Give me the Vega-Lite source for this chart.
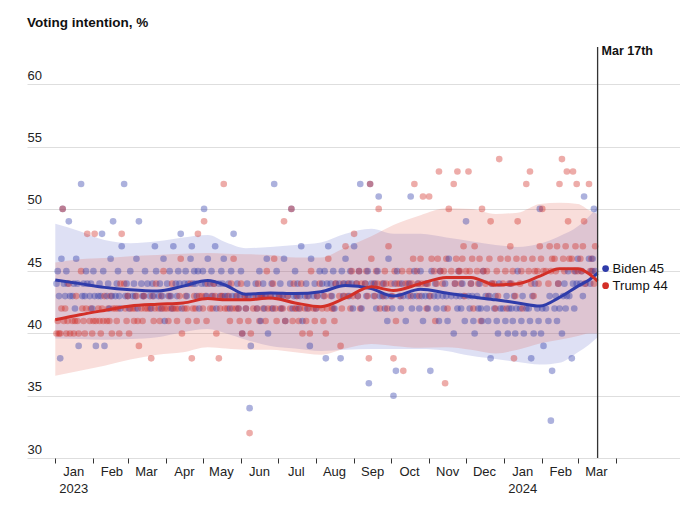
{
"$schema":"https://vega.github.io/schema/vega-lite/v6.json",
"width":653,"height":411,"autosize":"none",
"padding":{"left":27,"top":47,"right":0,"bottom":47},
"background":"white",
"title":{"text":"Voting intention, %","anchor":"start","frame":"group","offset":5,"baseline":"alphabetic","fontSize":13.5,"fontWeight":"bold","font":"Liberation Sans","color":"#111"},
"config":{"view":{"stroke":null},"font":"Liberation Sans",
"axisY":{"grid":true,"gridColor":"#dedede","gridWidth":1,"ticks":false,"domain":false,"labelAlign":"left","labelBaseline":"alphabetic","labelPadding":0,"labelOffset":-5,"labelFontSize":13,"labelColor":"#222","labelFont":"Liberation Sans","tickCount":7}},
"datasets":{
"polls":[
{"d":"2023-01-02","b":44,"t":40},{"d":"2023-01-03","b":45,"t":41},{"d":"2023-01-04","b":43,"t":40},{"d":"2023-01-05","b":38,"t":40},{"d":"2023-01-06","b":46,"t":42},{"d":"2023-01-07","b":50,"t":50},
{"d":"2023-01-08","b":44,"t":41},{"d":"2023-01-09","b":43,"t":42},{"d":"2023-01-10","b":45,"t":40},{"d":"2023-01-11","b":44,"t":41},{"d":"2023-01-12","b":49,"t":44},{"d":"2023-01-13","b":43,"t":40},
{"d":"2023-01-15","b":43,"t":41},{"d":"2023-01-16","b":44,"t":40},{"d":"2023-01-17","b":42,"t":41},{"d":"2023-01-18","b":46,"t":43},{"d":"2023-01-19","b":44,"t":41},{"d":"2023-01-20","b":39,"t":40},
{"d":"2023-01-22","b":52,"t":45},{"d":"2023-01-23","b":43,"t":42},{"d":"2023-01-24","b":44,"t":41},{"d":"2023-01-25","b":43,"t":40},{"d":"2023-01-26","b":45,"t":42},{"d":"2023-01-27","b":44,"t":48},
{"d":"2023-01-29","b":43,"t":41},{"d":"2023-01-30","b":44,"t":42},{"d":"2023-01-31","b":42,"t":40},{"d":"2023-02-01","b":45,"t":41},{"d":"2023-02-02","b":43,"t":48},{"d":"2023-02-03","b":39,"t":41},
{"d":"2023-02-05","b":43,"t":42},{"d":"2023-02-06","b":44,"t":41},{"d":"2023-02-07","b":43,"t":40},{"d":"2023-02-08","b":48,"t":42},{"d":"2023-02-09","b":45,"t":41},{"d":"2023-02-10","b":39,"t":43},
{"d":"2023-02-12","b":43,"t":41},{"d":"2023-02-13","b":44,"t":42},{"d":"2023-02-14","b":42,"t":41},{"d":"2023-02-15","b":46,"t":43},{"d":"2023-02-16","b":43,"t":40},{"d":"2023-02-17","b":49,"t":42},
{"d":"2023-02-19","b":43,"t":42},{"d":"2023-02-20","b":44,"t":41},{"d":"2023-02-21","b":45,"t":42},{"d":"2023-02-22","b":43,"t":40},{"d":"2023-02-23","b":42,"t":44},{"d":"2023-02-24","b":47,"t":48},
{"d":"2023-02-26","b":52,"t":44},{"d":"2023-02-27","b":43,"t":42},{"d":"2023-02-28","b":44,"t":41},{"d":"2023-03-01","b":43,"t":43},{"d":"2023-03-02","b":42,"t":40},{"d":"2023-03-03","b":45,"t":42},
{"d":"2023-03-05","b":43,"t":42},{"d":"2023-03-06","b":44,"t":41},{"d":"2023-03-07","b":43,"t":42},{"d":"2023-03-08","b":46,"t":43},{"d":"2023-03-09","b":42,"t":41},{"d":"2023-03-10","b":49,"t":39},
{"d":"2023-03-12","b":44,"t":42},{"d":"2023-03-13","b":43,"t":41},{"d":"2023-03-14","b":43,"t":43},{"d":"2023-03-15","b":45,"t":42},{"d":"2023-03-17","b":44,"t":42},
{"d":"2023-03-19","b":43,"t":42},{"d":"2023-03-20","b":42,"t":38},{"d":"2023-03-21","b":44,"t":43},{"d":"2023-03-22","b":43,"t":41},{"d":"2023-03-23","b":47,"t":42},{"d":"2023-03-24","b":45,"t":44},
{"d":"2023-03-26","b":43,"t":42},{"d":"2023-03-27","b":44,"t":41},{"d":"2023-03-28","b":42,"t":43},{"d":"2023-03-29","b":43,"t":42},{"d":"2023-03-30","b":46,"t":45},{"d":"2023-03-31","b":41,"t":42},
{"d":"2023-04-02","b":44,"t":42},{"d":"2023-04-03","b":43,"t":41},{"d":"2023-04-04","b":45,"t":43},{"d":"2023-04-05","b":43,"t":42},{"d":"2023-04-06","b":42,"t":44},{"d":"2023-04-07","b":47,"t":42},
{"d":"2023-04-09","b":44,"t":42},{"d":"2023-04-10","b":43,"t":41},{"d":"2023-04-11","b":45,"t":42},{"d":"2023-04-12","b":44,"t":43},{"d":"2023-04-13","b":48,"t":46},{"d":"2023-04-14","b":42,"t":40},
{"d":"2023-04-16","b":44,"t":42},{"d":"2023-04-17","b":45,"t":43},{"d":"2023-04-18","b":43,"t":42},{"d":"2023-04-19","b":44,"t":41},{"d":"2023-04-21","b":46,"t":44},{"d":"2023-04-22","b":47,"t":38},
{"d":"2023-04-23","b":44,"t":42},{"d":"2023-04-24","b":45,"t":43},{"d":"2023-04-25","b":44,"t":42},{"d":"2023-04-26","b":43,"t":41},{"d":"2023-04-27","b":45,"t":48},{"d":"2023-04-28","b":42,"t":43},
{"d":"2023-04-30","b":44,"t":43},{"d":"2023-05-01","b":45,"t":42},{"d":"2023-05-02","b":50,"t":49},{"d":"2023-05-03","b":44,"t":43},{"d":"2023-05-04","b":43,"t":41},{"d":"2023-05-05","b":46,"t":44},
{"d":"2023-05-07","b":44,"t":42},{"d":"2023-05-08","b":45,"t":43},{"d":"2023-05-09","b":43,"t":42},{"d":"2023-05-10","b":44,"t":44},{"d":"2023-05-11","b":47,"t":43},{"d":"2023-05-12","b":42,"t":40},
{"d":"2023-05-14","b":44,"t":38},{"d":"2023-05-15","b":43,"t":42},{"d":"2023-05-16","b":45,"t":43},{"d":"2023-05-17","b":44,"t":43},{"d":"2023-05-18","b":46,"t":52},{"d":"2023-05-19","b":43,"t":42},
{"d":"2023-05-21","b":43,"t":42},{"d":"2023-05-22","b":44,"t":43},{"d":"2023-05-23","b":42,"t":41},{"d":"2023-05-24","b":45,"t":44},{"d":"2023-05-25","b":43,"t":42},{"d":"2023-05-26","b":48,"t":46},
{"d":"2023-05-28","b":43,"t":42},{"d":"2023-05-29","b":44,"t":43},{"d":"2023-05-30","b":42,"t":42},{"d":"2023-05-31","b":43,"t":41},{"d":"2023-06-01","b":45,"t":44},{"d":"2023-06-02","b":40,"t":40},
{"d":"2023-06-04","b":43,"t":43},{"d":"2023-06-05","b":42,"t":42},{"d":"2023-06-06","b":44,"t":43},{"d":"2023-06-07","b":43,"t":41},{"d":"2023-06-08","b":34,"t":32},{"d":"2023-06-09","b":39,"t":40},
{"d":"2023-06-11","b":43,"t":42},{"d":"2023-06-13","b":44,"t":43},{"d":"2023-06-14","b":42,"t":42},{"d":"2023-06-15","b":43,"t":44},{"d":"2023-06-16","b":45,"t":41},{"d":"2023-06-17","b":41,"t":43},
{"d":"2023-06-18","b":43,"t":43},{"d":"2023-06-19","b":44,"t":42},{"d":"2023-06-20","b":42,"t":43},{"d":"2023-06-21","b":43,"t":41},{"d":"2023-06-22","b":46,"t":45},{"d":"2023-06-23","b":40,"t":42},
{"d":"2023-06-25","b":43,"t":43},{"d":"2023-06-26","b":44,"t":42},{"d":"2023-06-27","b":42,"t":44},{"d":"2023-06-28","b":52,"t":46},{"d":"2023-06-29","b":43,"t":42},{"d":"2023-06-30","b":45,"t":41},
{"d":"2023-07-02","b":43,"t":43},{"d":"2023-07-03","b":44,"t":42},{"d":"2023-07-04","b":42,"t":43},{"d":"2023-07-05","b":43,"t":42},{"d":"2023-07-06","b":46,"t":49},{"d":"2023-07-07","b":41,"t":41},
{"d":"2023-07-09","b":43,"t":43},{"d":"2023-07-11","b":44,"t":42},{"d":"2023-07-12","b":50,"t":50},{"d":"2023-07-13","b":42,"t":41},{"d":"2023-07-14","b":43,"t":44},{"d":"2023-07-15","b":45,"t":42},
{"d":"2023-07-16","b":43,"t":42},{"d":"2023-07-17","b":44,"t":43},{"d":"2023-07-18","b":42,"t":41},{"d":"2023-07-19","b":43,"t":42},{"d":"2023-07-20","b":47,"t":44},{"d":"2023-07-21","b":41,"t":40},
{"d":"2023-07-23","b":43,"t":42},{"d":"2023-07-24","b":44,"t":41},{"d":"2023-07-25","b":42,"t":43},{"d":"2023-07-26","b":43,"t":42},{"d":"2023-07-27","b":39,"t":40},{"d":"2023-07-28","b":46,"t":45},
{"d":"2023-07-30","b":43,"t":42},{"d":"2023-07-31","b":44,"t":41},{"d":"2023-08-01","b":42,"t":42},{"d":"2023-08-02","b":43,"t":43},{"d":"2023-08-04","b":45,"t":44},
{"d":"2023-08-06","b":44,"t":42},{"d":"2023-08-07","b":43,"t":41},{"d":"2023-08-08","b":45,"t":43},{"d":"2023-08-09","b":38,"t":40},{"d":"2023-08-10","b":44,"t":42},{"d":"2023-08-11","b":47,"t":46},
{"d":"2023-08-13","b":44,"t":43},{"d":"2023-08-14","b":43,"t":42},{"d":"2023-08-15","b":45,"t":42},{"d":"2023-08-16","b":42,"t":41},{"d":"2023-08-17","b":44,"t":44},
{"d":"2023-08-20","b":44,"t":43},{"d":"2023-08-21","b":38,"t":39},{"d":"2023-08-22","b":45,"t":42},{"d":"2023-08-23","b":43,"t":44},{"d":"2023-08-24","b":44,"t":43},{"d":"2023-08-25","b":46,"t":47},
{"d":"2023-08-27","b":44,"t":43},{"d":"2023-08-28","b":43,"t":44},{"d":"2023-08-29","b":45,"t":42},{"d":"2023-08-30","b":44,"t":45},{"d":"2023-08-31","b":42,"t":43},{"d":"2023-09-01","b":47,"t":48},
{"d":"2023-09-03","b":44,"t":44},{"d":"2023-09-04","b":43,"t":43},{"d":"2023-09-05","b":45,"t":45},{"d":"2023-09-06","b":52,"t":42},{"d":"2023-09-07","b":42,"t":44},
{"d":"2023-09-10","b":44,"t":44},{"d":"2023-09-11","b":43,"t":45},{"d":"2023-09-12","b":45,"t":43},{"d":"2023-09-13","b":36,"t":38},{"d":"2023-09-14","b":52,"t":52},{"d":"2023-09-15","b":44,"t":46},
{"d":"2023-09-17","b":43,"t":44},{"d":"2023-09-18","b":44,"t":43},{"d":"2023-09-19","b":42,"t":45},{"d":"2023-09-20","b":45,"t":44},{"d":"2023-09-21","b":51,"t":50},{"d":"2023-09-22","b":43,"t":42},
{"d":"2023-09-24","b":43,"t":44},{"d":"2023-09-25","b":44,"t":43},{"d":"2023-09-26","b":42,"t":45},{"d":"2023-09-27","b":43,"t":44},{"d":"2023-09-28","b":41,"t":42},{"d":"2023-09-29","b":46,"t":47},
{"d":"2023-10-01","b":43,"t":44},{"d":"2023-10-02","b":42,"t":43},{"d":"2023-10-03","b":35,"t":38},{"d":"2023-10-04","b":44,"t":45},{"d":"2023-10-05","b":37,"t":41},{"d":"2023-10-06","b":45,"t":44},
{"d":"2023-10-08","b":43,"t":44},{"d":"2023-10-09","b":42,"t":43},{"d":"2023-10-10","b":44,"t":45},{"d":"2023-10-11","b":43,"t":37},{"d":"2023-10-13","b":41,"t":44},
{"d":"2023-10-15","b":43,"t":44},{"d":"2023-10-16","b":44,"t":45},{"d":"2023-10-17","b":51,"t":43},{"d":"2023-10-18","b":42,"t":44},{"d":"2023-10-19","b":43,"t":46},{"d":"2023-10-20","b":45,"t":52},
{"d":"2023-10-22","b":43,"t":45},{"d":"2023-10-23","b":44,"t":44},{"d":"2023-10-24","b":42,"t":43},{"d":"2023-10-25","b":45,"t":46},{"d":"2023-10-26","b":43,"t":44},{"d":"2023-10-27","b":41,"t":51},
{"d":"2023-10-29","b":43,"t":44},{"d":"2023-10-30","b":44,"t":42},{"d":"2023-10-31","b":42,"t":44},{"d":"2023-11-01","b":43,"t":51},{"d":"2023-11-02","b":37,"t":43},{"d":"2023-11-03","b":45,"t":46},
{"d":"2023-11-05","b":43,"t":45},{"d":"2023-11-06","b":44,"t":41},{"d":"2023-11-07","b":42,"t":44},{"d":"2023-11-08","b":43,"t":46},{"d":"2023-11-09","b":41,"t":53},{"d":"2023-11-10","b":45,"t":45},
{"d":"2023-11-12","b":43,"t":44},{"d":"2023-11-13","b":42,"t":45},{"d":"2023-11-14","b":44,"t":36},{"d":"2023-11-15","b":43,"t":46},{"d":"2023-11-16","b":41,"t":42},{"d":"2023-11-17","b":46,"t":50},
{"d":"2023-11-19","b":43,"t":45},{"d":"2023-11-21","b":40,"t":52},{"d":"2023-11-22","b":44,"t":44},{"d":"2023-11-23","b":43,"t":46},{"d":"2023-11-24","b":42,"t":53},{"d":"2023-11-25","b":45,"t":45},
{"d":"2023-11-26","b":43,"t":45},{"d":"2023-11-27","b":42,"t":44},{"d":"2023-11-28","b":44,"t":46},{"d":"2023-11-29","b":43,"t":47},{"d":"2023-11-30","b":41,"t":43},{"d":"2023-12-01","b":49,"t":45},
{"d":"2023-12-03","b":43,"t":53},{"d":"2023-12-04","b":42,"t":45},{"d":"2023-12-05","b":44,"t":44},{"d":"2023-12-06","b":43,"t":46},{"d":"2023-12-07","b":41,"t":42},{"d":"2023-12-08","b":40,"t":47},
{"d":"2023-12-10","b":43,"t":45},{"d":"2023-12-11","b":42,"t":44},{"d":"2023-12-12","b":44,"t":46},{"d":"2023-12-13","b":42,"t":41},{"d":"2023-12-14","b":41,"t":50},{"d":"2023-12-15","b":45,"t":45},
{"d":"2023-12-17","b":43,"t":44},{"d":"2023-12-18","b":42,"t":45},{"d":"2023-12-19","b":41,"t":43},{"d":"2023-12-20","b":43,"t":46},{"d":"2023-12-21","b":38,"t":49},{"d":"2023-12-22","b":44,"t":44},
{"d":"2023-12-24","b":42,"t":44},{"d":"2023-12-25","b":43,"t":42},{"d":"2023-12-26","b":41,"t":45},{"d":"2023-12-27","b":40,"t":43},{"d":"2023-12-28","b":44,"t":54},{"d":"2023-12-29","b":42,"t":46},
{"d":"2023-12-31","b":42,"t":44},{"d":"2024-01-02","b":41,"t":45},{"d":"2024-01-03","b":43,"t":42},{"d":"2024-01-04","b":40,"t":46},{"d":"2024-01-05","b":42,"t":44},{"d":"2024-01-06","b":44,"t":47},
{"d":"2024-01-07","b":42,"t":44},{"d":"2024-01-08","b":41,"t":45},{"d":"2024-01-09","b":43,"t":38},{"d":"2024-01-10","b":40,"t":43},{"d":"2024-01-11","b":42,"t":46},{"d":"2024-01-12","b":45,"t":49},
{"d":"2024-01-14","b":42,"t":44},{"d":"2024-01-15","b":41,"t":45},{"d":"2024-01-16","b":43,"t":42},{"d":"2024-01-17","b":40,"t":46},{"d":"2024-01-19","b":42,"t":52},
{"d":"2024-01-21","b":42,"t":45},{"d":"2024-01-22","b":41,"t":53},{"d":"2024-01-23","b":38,"t":44},{"d":"2024-01-24","b":43,"t":46},{"d":"2024-01-25","b":40,"t":43},{"d":"2024-01-26","b":44,"t":45},
{"d":"2024-01-28","b":42,"t":45},{"d":"2024-01-29","b":41,"t":44},{"d":"2024-01-30","b":50,"t":47},{"d":"2024-01-31","b":40,"t":46},{"d":"2024-02-01","b":42,"t":50},{"d":"2024-02-02","b":39,"t":45},
{"d":"2024-02-04","b":42,"t":45},{"d":"2024-02-06","b":41,"t":44},{"d":"2024-02-07","b":43,"t":47},{"d":"2024-02-08","b":33,"t":45},{"d":"2024-02-09","b":37,"t":46},
{"d":"2024-02-11","b":42,"t":46},{"d":"2024-02-12","b":43,"t":45},{"d":"2024-02-13","b":41,"t":47},{"d":"2024-02-14","b":44,"t":44},{"d":"2024-02-15","b":42,"t":52},{"d":"2024-02-17","b":40,"t":54},
{"d":"2024-02-18","b":43,"t":46},{"d":"2024-02-19","b":44,"t":45},{"d":"2024-02-20","b":42,"t":47},{"d":"2024-02-21","b":43,"t":53},{"d":"2024-02-22","b":45,"t":49},{"d":"2024-02-23","b":43,"t":46},
{"d":"2024-02-25","b":38,"t":46},{"d":"2024-02-26","b":44,"t":53},{"d":"2024-02-27","b":42,"t":45},{"d":"2024-02-28","b":45,"t":47},{"d":"2024-02-29","b":44,"t":52},{"d":"2024-03-01","b":46,"t":45},
{"d":"2024-03-03","b":44,"t":46},{"d":"2024-03-04","b":45,"t":45},{"d":"2024-03-05","b":43,"t":47},{"d":"2024-03-06","b":51,"t":49},{"d":"2024-03-07","b":44,"t":44},
{"d":"2024-03-10","b":46,"t":52},{"d":"2024-03-11","b":44,"t":45},{"d":"2024-03-12","b":45,"t":46},{"d":"2024-03-13","b":46,"t":45},{"d":"2024-03-14","b":50,"t":44},{"d":"2024-03-15","b":45,"t":47}
],
"trend":[
{"c":"b","d":"2023-01-01","m":44.3,"lo":39.6,"hi":48.8},
{"c":"b","d":"2023-01-21","m":44.0,"lo":39.55,"hi":48.2},
{"c":"b","d":"2023-02-10","m":43.7,"lo":39.5,"hi":47.5},
{"c":"b","d":"2023-03-03","m":43.5,"lo":39.55,"hi":47.25},
{"c":"b","d":"2023-03-25","m":43.4,"lo":39.7,"hi":47.4},
{"c":"b","d":"2023-04-15","m":43.8,"lo":40.1,"hi":47.7},
{"c":"b","d":"2023-05-05","m":44.25,"lo":40.35,"hi":47.9},
{"c":"b","d":"2023-05-20","m":43.85,"lo":40.0,"hi":47.3},
{"c":"b","d":"2023-06-05","m":43.15,"lo":39.5,"hi":46.85},
{"c":"b","d":"2023-06-25","m":43.25,"lo":39.0,"hi":46.95},
{"c":"b","d":"2023-07-15","m":43.2,"lo":38.8,"hi":47.1},
{"c":"b","d":"2023-08-05","m":43.35,"lo":38.6,"hi":47.3},
{"c":"b","d":"2023-08-25","m":43.85,"lo":38.7,"hi":48.0},
{"c":"b","d":"2023-09-15","m":43.6,"lo":38.75,"hi":48.4},
{"c":"b","d":"2023-10-03","m":43.0,"lo":38.75,"hi":48.0},
{"c":"b","d":"2023-10-25","m":43.55,"lo":38.75,"hi":48.0},
{"c":"b","d":"2023-11-15","m":43.25,"lo":38.6,"hi":47.7},
{"c":"b","d":"2023-12-05","m":42.95,"lo":38.2,"hi":47.4},
{"c":"b","d":"2023-12-25","m":42.7,"lo":37.95,"hi":47.1},
{"c":"b","d":"2024-01-12","m":42.45,"lo":37.7,"hi":46.95},
{"c":"b","d":"2024-01-30","m":42.2,"lo":37.5,"hi":47.2},
{"c":"b","d":"2024-02-15","m":42.9,"lo":37.65,"hi":47.8},
{"c":"b","d":"2024-03-01","m":43.8,"lo":38.5,"hi":48.6},
{"c":"b","d":"2024-03-10","m":44.3,"lo":39.1,"hi":49.4},
{"c":"b","d":"2024-03-17","m":44.85,"lo":39.7,"hi":50.2},
{"c":"t","d":"2023-01-01","m":41.1,"lo":36.6,"hi":45.7},
{"c":"t","d":"2023-01-21","m":41.5,"lo":37.0,"hi":45.95},
{"c":"t","d":"2023-02-10","m":41.85,"lo":37.4,"hi":46.05},
{"c":"t","d":"2023-03-03","m":42.2,"lo":37.9,"hi":46.2},
{"c":"t","d":"2023-03-25","m":42.35,"lo":38.3,"hi":46.3},
{"c":"t","d":"2023-04-15","m":42.45,"lo":38.5,"hi":46.4},
{"c":"t","d":"2023-05-05","m":42.8,"lo":38.9,"hi":46.45},
{"c":"t","d":"2023-05-20","m":42.7,"lo":38.8,"hi":46.4},
{"c":"t","d":"2023-06-05","m":42.7,"lo":38.7,"hi":46.35},
{"c":"t","d":"2023-06-25","m":42.85,"lo":38.7,"hi":46.3},
{"c":"t","d":"2023-07-15","m":42.45,"lo":38.5,"hi":46.1},
{"c":"t","d":"2023-08-05","m":42.15,"lo":38.3,"hi":46.1},
{"c":"t","d":"2023-08-25","m":42.85,"lo":38.8,"hi":46.9},
{"c":"t","d":"2023-09-15","m":43.75,"lo":39.15,"hi":47.8},
{"c":"t","d":"2023-10-03","m":43.45,"lo":39.0,"hi":48.7},
{"c":"t","d":"2023-10-25","m":44.0,"lo":38.85,"hi":49.5},
{"c":"t","d":"2023-11-15","m":44.5,"lo":38.9,"hi":50.05},
{"c":"t","d":"2023-12-05","m":44.5,"lo":38.7,"hi":50.0},
{"c":"t","d":"2023-12-25","m":43.9,"lo":38.4,"hi":49.6},
{"c":"t","d":"2024-01-12","m":44.0,"lo":38.7,"hi":49.7},
{"c":"t","d":"2024-01-30","m":44.6,"lo":39.2,"hi":50.4},
{"c":"t","d":"2024-02-15","m":45.2,"lo":39.5,"hi":50.5},
{"c":"t","d":"2024-03-01","m":45.2,"lo":39.8,"hi":50.4},
{"c":"t","d":"2024-03-10","m":44.8,"lo":40.0,"hi":49.9},
{"c":"t","d":"2024-03-17","m":44.2,"lo":40.0,"hi":49.6}
],
"ends":[
{"c":"b","d":"2024-03-17","v":44.85,"l":"Biden 45"},
{"c":"t","d":"2024-03-17","v":44.2,"l":"Trump 44"}
]
},
"encoding":{
"x":{"field":"d","type":"temporal","title":null,
"scale":{"domain":[{"year":2022,"month":12,"date":9},{"year":2024,"month":5,"date":23}]},
"axis":{"values":[{"year":2023,"month":1,"date":1},{"year":2023,"month":2,"date":1},{"year":2023,"month":3,"date":1},{"year":2023,"month":4,"date":1},{"year":2023,"month":5,"date":1},{"year":2023,"month":6,"date":1},{"year":2023,"month":7,"date":1},{"year":2023,"month":8,"date":1},{"year":2023,"month":9,"date":1},{"year":2023,"month":10,"date":1},{"year":2023,"month":11,"date":1},{"year":2023,"month":12,"date":1},{"year":2024,"month":1,"date":1},{"year":2024,"month":2,"date":1},{"year":2024,"month":3,"date":1},{"year":2024,"month":4,"date":1}],
"labelExpr":"month(datum.value)==0 ? [timeFormat(datum.value,'%b'), timeFormat(datum.value,'%Y')] : (datum.value >= datetime(2024,3,1) ? '' : timeFormat(datum.value,'%b'))",
"grid":false,"domain":false,"ticks":true,"tickSize":5,"tickColor":"#333","tickWidth":1,
"labelOffset":18,"labelPadding":2,"labelFontSize":13,"labelColor":"#222","labelFont":"Liberation Sans","labelLineHeight":17,
"labelOverlap":false,"labelFlush":false,"labelBound":false}}
},
"layer":[
{"data":{"name":"trend"},
"mark":{"type":"area","interpolate":"monotone","opacity":0.2},
"encoding":{
"y":{"field":"lo","type":"quantitative","title":null,"scale":{"domain":[30,63],"nice":false,"zero":false}},
"y2":{"field":"hi"},
"fill":{"field":"c","type":"nominal","scale":{"domain":["b","t"],"range":["#5a64c8","#e2584c"]},"legend":null}}},
{"data":{"name":"polls"},
"transform":[{"fold":["b","t"],"as":["c","v"]}],
"mark":{"type":"circle","size":44,"opacity":0.4},
"encoding":{
"y":{"field":"v","type":"quantitative","title":null},
"color":{"field":"c","type":"nominal","scale":{"domain":["b","t"],"range":["#2f3caa","#d32f27"]},"legend":null}}},
{"data":{"name":"trend"},
"mark":{"type":"line","interpolate":"monotone","strokeWidth":3},
"encoding":{
"y":{"field":"m","type":"quantitative","title":null},
"color":{"field":"c","type":"nominal","legend":null}}},
{"data":{"values":[{"d":"2024-03-17"}]},
"mark":{"type":"rule","color":"#333","strokeWidth":1.3},
"encoding":{}},
{"data":{"values":[{"d":"2024-03-17","l":"Mar 17th"}]},
"mark":{"type":"text","align":"left","baseline":"top","dx":4,"dy":-2,"fontSize":12.5,"fontWeight":"bold","font":"Liberation Sans","color":"#111"},
"encoding":{"y":{"datum":63,"type":"quantitative","title":null},"text":{"field":"l"}}},
{"data":{"name":"ends"},"transform":[{"filter":"datum.c=='b'"}],
"layer":[
{"mark":{"type":"circle","size":45,"opacity":1,"xOffset":8,"yOffset":-4.5,"color":"#2f3caa"},"encoding":{"y":{"field":"v","type":"quantitative","title":null}}},
{"mark":{"type":"text","align":"left","baseline":"middle","dx":15,"dy":-4.5,"fontSize":13,"font":"Liberation Sans","color":"#111"},"encoding":{"y":{"field":"v","type":"quantitative","title":null},"text":{"field":"l"}}}
]},
{"data":{"name":"ends"},"transform":[{"filter":"datum.c=='t'"}],
"layer":[
{"mark":{"type":"circle","size":45,"opacity":1,"xOffset":8,"yOffset":4.5,"color":"#d32f27"},"encoding":{"y":{"field":"v","type":"quantitative","title":null}}},
{"mark":{"type":"text","align":"left","baseline":"middle","dx":15,"dy":4.5,"fontSize":13,"font":"Liberation Sans","color":"#111"},"encoding":{"y":{"field":"v","type":"quantitative","title":null},"text":{"field":"l"}}}
]}
]
}
